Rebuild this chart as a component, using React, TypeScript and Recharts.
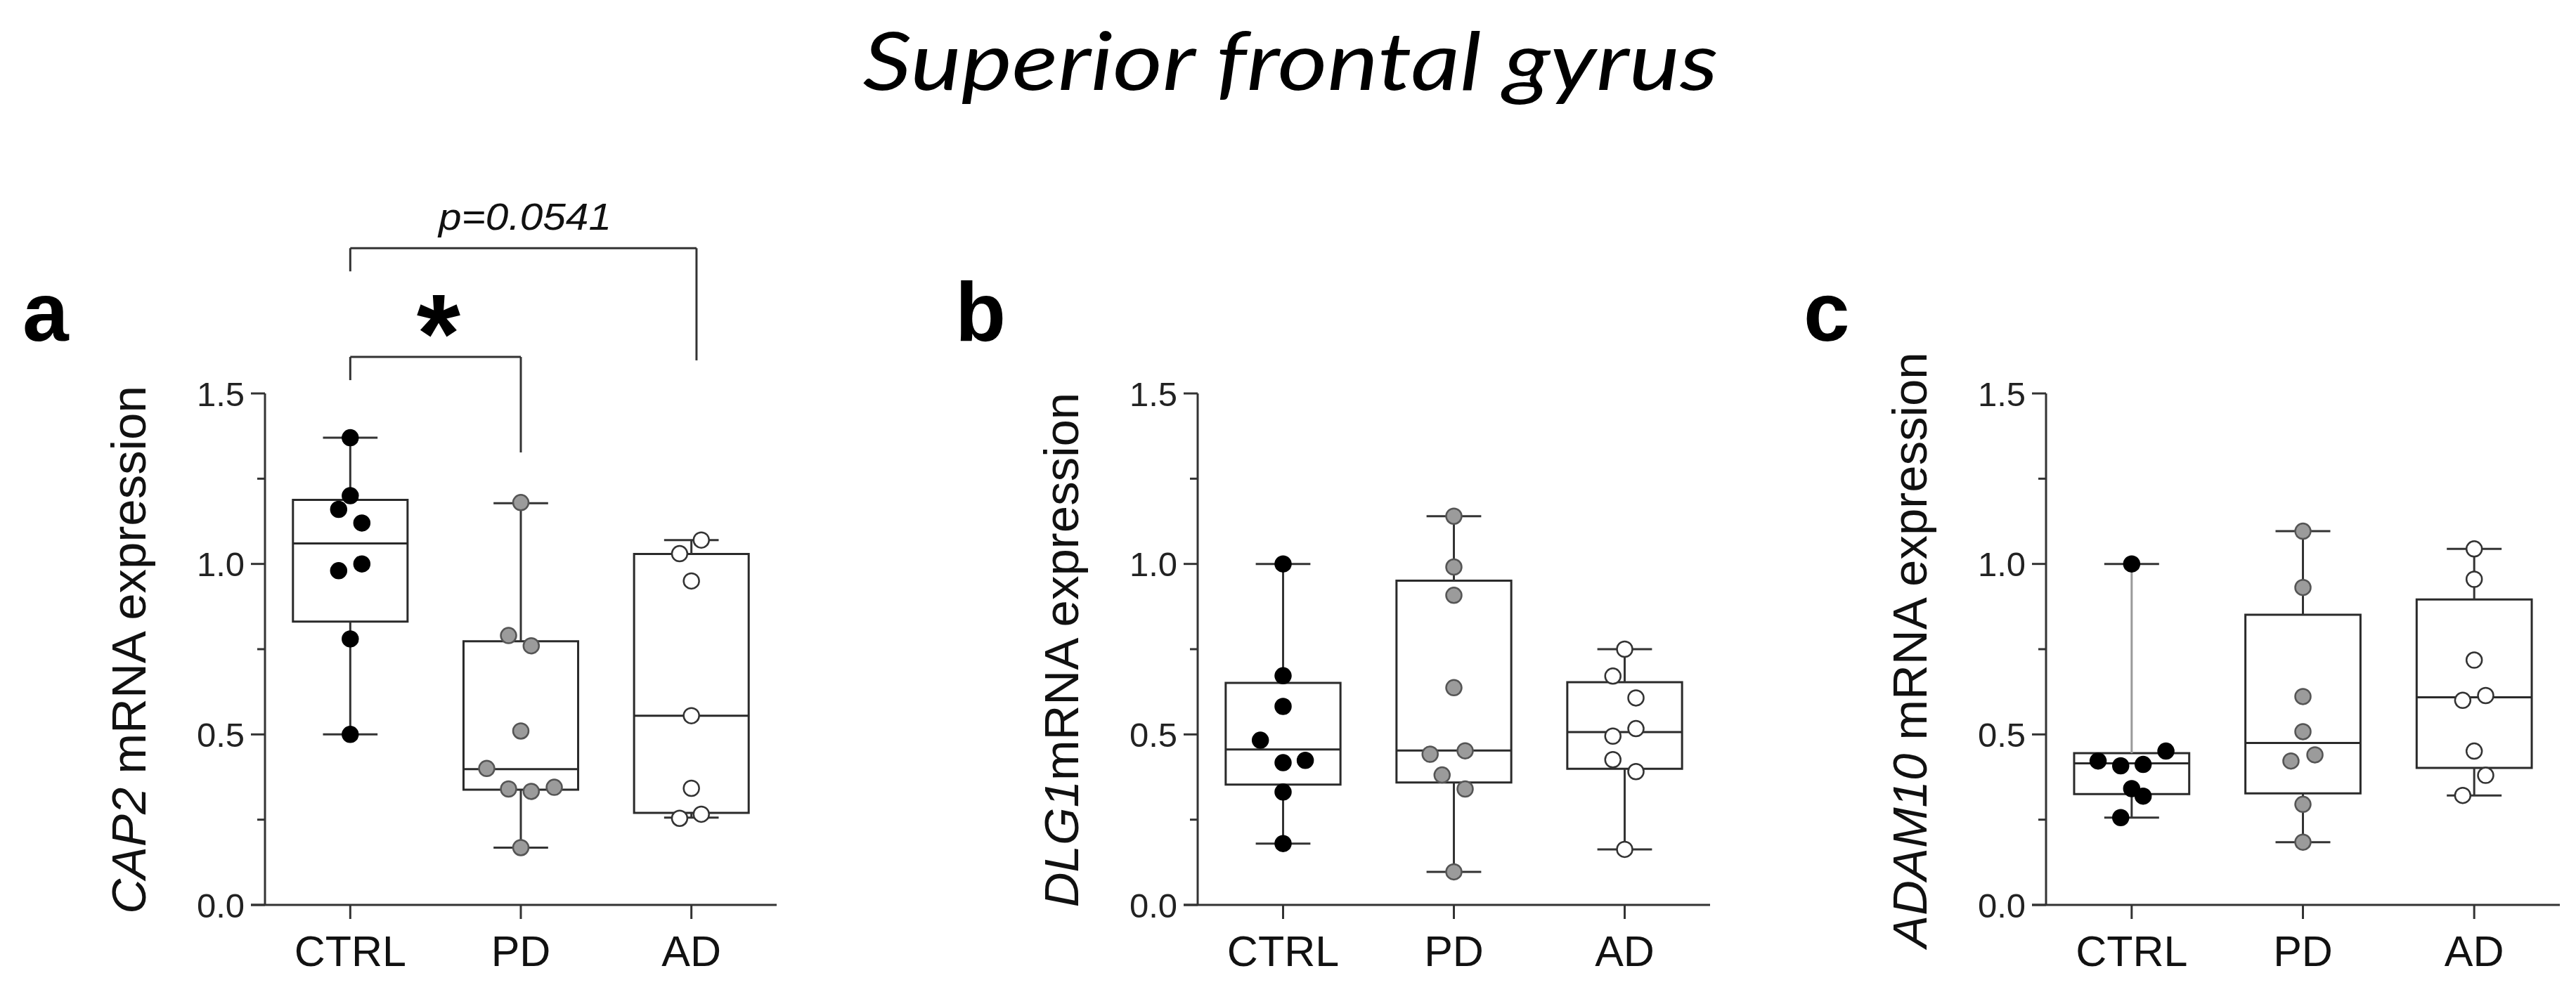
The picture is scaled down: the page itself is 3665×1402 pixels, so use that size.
import React from 'react';
import { ComposedChart, Scatter, XAxis, YAxis, ReferenceLine, ReferenceArea } from 'recharts';

// ---------- data ----------
const groups = ['CTRL', 'PD', 'AD'];
const yTicks = [0, 0.25, 0.5, 0.75, 1, 1.25, 1.5];

// Panel a – CAP2
const cap2Ctrl = [1.37, 1.2, 1.16, 1.12, 1.0, 0.98, 0.78, 0.5];
const cap2CtrlJit = [0, 0, -0.068, 0.068, 0.068, -0.068, 0, 0];
const cap2Pd = [1.18, 0.79, 0.76, 0.51, 0.4, 0.34, 0.333, 0.345, 0.168];
const cap2PdJit = [0, -0.072, 0.061, 0, -0.2, -0.072, 0.061, 0.196, 0];
const cap2Ad = [1.07, 1.03, 0.95, 0.555, 0.342, 0.266, 0.254];
const cap2AdJit = [0.058, -0.069, 0, 0, 0, 0.058, -0.069];
// [min, q1, median, q3, max]
const cap2Boxes = [
  [0.5, 0.831, 1.06, 1.188, 1.37],
  [0.168, 0.338, 0.398, 0.773, 1.178],
  [0.256, 0.27, 0.555, 1.029, 1.07],
];

// Panel b – DLG1
const dlg1Ctrl = [1.0, 0.672, 0.582, 0.483, 0.417, 0.424, 0.331, 0.18];
const dlg1CtrlJit = [0, 0, 0, -0.133, 0, 0.13, 0, 0];
const dlg1Pd = [1.14, 0.991, 0.908, 0.637, 0.442, 0.452, 0.381, 0.34, 0.097];
const dlg1PdJit = [0, 0, 0, 0, -0.139, 0.066, -0.069, 0.066, 0];
const dlg1Ad = [0.75, 0.671, 0.607, 0.517, 0.495, 0.426, 0.391, 0.163];
const dlg1AdJit = [0, -0.069, 0.066, 0.066, -0.069, -0.069, 0.066, 0];
const dlg1Boxes = [
  [0.18, 0.353, 0.456, 0.651, 1.0],
  [0.097, 0.359, 0.453, 0.951, 1.14],
  [0.163, 0.399, 0.507, 0.653, 0.75],
];

// Panel c – ADAM10
const adamCtrl = [1.0, 0.451, 0.422, 0.412, 0.408, 0.341, 0.319, 0.256];
const adamCtrlJit = [0, 0.2, -0.196, 0.067, -0.064, 0, 0.067, -0.064];
const adamPd = [1.096, 0.931, 0.611, 0.508, 0.44, 0.422, 0.295, 0.184];
const adamPdJit = [0, 0, 0, 0, 0.07, -0.07, 0, 0];
const adamAd = [1.044, 0.955, 0.718, 0.6, 0.614, 0.451, 0.38, 0.321];
const adamAdJit = [0, 0, 0, -0.067, 0.067, 0, 0.067, -0.067];
const adamBoxes = [
  [0.256, 0.325, 0.415, 0.445, 1.0],
  [0.184, 0.327, 0.475, 0.851, 1.096],
  [0.321, 0.402, 0.609, 0.896, 1.044],
];

// ---------- styles ----------
const FONT = '"Liberation Sans", Arial, sans-serif';
const AX = '#333';
const dotStyles = [
  { fill: '#000000', stroke: '#000000' },
  { fill: '#9b9b9b', stroke: '#555555' },
  { fill: '#ffffff', stroke: '#333333' },
];
const BOX_HALF = 0.336;
const CAP_HALF = 0.16;
const CHART_TOP = 300;
const CHART_H = 1102;
const LEFT_ROOM = 250;

const YTick = (props: any) => {
  const { x, y, payload } = props;
  const v = payload.value;
  const major = Math.abs(v * 2 - Math.round(v * 2)) < 1e-6;
  const ax = x + 29;
  return (
    <g>
      <line x1={ax - (major ? 20 : 11)} x2={ax} y1={y} y2={y} stroke={AX} strokeWidth={3} />
      {major && (
        <text x={ax - 29} y={y} dy="0.36em" textAnchor="end" fontSize={49} fontFamily={FONT} fill="#222">
          {v.toFixed(1)}
        </text>
      )}
    </g>
  );
};

const XTick = (props: any) => {
  const { x, y, payload } = props;
  return (
    <text x={x} y={y + 67} textAnchor="middle" fontSize={61} fontFamily={FONT} fill="#111">
      {groups[payload.value]}
    </text>
  );
};

type PanelProps = {
  plotLeft: number;
  plotRight: number;
  values: number[][];
  jitters: number[][];
  boxes: number[][];
  whiskerColors?: string[][];
  brackets?: { x1: number; x2: number; y: number; y1: number; y2: number }[];
};

const Panel = ({ plotLeft, plotRight, values, jitters, boxes, whiskerColors, brackets }: PanelProps) => {
  const width = plotRight - plotLeft + LEFT_ROOM + 30;
  const ext = 20 / ((plotRight - plotLeft) / 3);
  return (
    <div style={{ position: 'absolute', left: plotLeft - LEFT_ROOM, top: CHART_TOP }}>
      <ComposedChart width={width} height={CHART_H} margin={{ top: 260, right: 30, bottom: 14, left: 150 }}>
        <XAxis
          dataKey="x"
          type="number"
          domain={[-0.5, 2.5]}
          ticks={[0, 1, 2]}
          interval={0}
          allowDataOverflow
          axisLine={false}
          tickSize={20}
          tickMargin={0}
          tickLine={{ stroke: AX, strokeWidth: 3 }}
          tick={<XTick />}
          height={100}
        />
        <YAxis
          dataKey="y"
          type="number"
          domain={[0, 1.5]}
          ticks={yTicks}
          interval={0}
          allowDataOverflow
          width={100}
          tickSize={20}
          tickMargin={9}
          tickLine={false}
          axisLine={{ stroke: AX, strokeWidth: 3 }}
          tick={<YTick />}
        />
        <ReferenceLine
          segment={[{ x: -0.5 - ext, y: 0 }, { x: 2.5, y: 0 }]}
          stroke={AX}
          strokeWidth={3}
          ifOverflow="visible"
        />
        {boxes.map((b, g) => {
          const wc = whiskerColors ? whiskerColors[g] : [AX, AX];
          return (
            <React.Fragment key={'box' + g}>
              <ReferenceLine segment={[{ x: g, y: b[3] }, { x: g, y: b[4] }]} stroke={wc[1]} strokeWidth={3} ifOverflow="visible" />
              <ReferenceLine segment={[{ x: g, y: b[0] }, { x: g, y: b[1] }]} stroke={wc[0]} strokeWidth={3} ifOverflow="visible" />
              <ReferenceLine segment={[{ x: g - CAP_HALF, y: b[4] }, { x: g + CAP_HALF, y: b[4] }]} stroke={AX} strokeWidth={3} ifOverflow="visible" />
              <ReferenceLine segment={[{ x: g - CAP_HALF, y: b[0] }, { x: g + CAP_HALF, y: b[0] }]} stroke={AX} strokeWidth={3} ifOverflow="visible" />
              <ReferenceArea x1={g - BOX_HALF} x2={g + BOX_HALF} y1={b[1]} y2={b[3]} fill="none" stroke="#2a2a2a" strokeWidth={3} ifOverflow="visible" />
              <ReferenceLine segment={[{ x: g - BOX_HALF, y: b[2] }, { x: g + BOX_HALF, y: b[2] }]} stroke="#2a2a2a" strokeWidth={3} ifOverflow="visible" />
            </React.Fragment>
          );
        })}
        {(brackets || []).map((br, i) => (
          <React.Fragment key={'br' + i}>
            <ReferenceLine segment={[{ x: br.x1, y: br.y }, { x: br.x2, y: br.y }]} stroke={AX} strokeWidth={3} ifOverflow="visible" />
            <ReferenceLine segment={[{ x: br.x1, y: br.y }, { x: br.x1, y: br.y1 }]} stroke={AX} strokeWidth={3} ifOverflow="visible" />
            <ReferenceLine segment={[{ x: br.x2, y: br.y }, { x: br.x2, y: br.y2 }]} stroke={AX} strokeWidth={3} ifOverflow="visible" />
          </React.Fragment>
        ))}
        {values.map((vals, g) => (
          <Scatter
            key={'pts' + g}
            data={vals.map((v, i) => ({ x: g + jitters[g][i], y: v }))}
            isAnimationActive={false}
            shape={(p: any) => (
              <circle cx={p.cx} cy={p.cy} r={11} fill={dotStyles[g].fill} stroke={dotStyles[g].stroke} strokeWidth={2.5} />
            )}
          />
        ))}
      </ComposedChart>
    </div>
  );
};

const YLabel = ({ x, italic, rest }: { x: number; italic: string; rest: string }) => (
  <text transform={`translate(${x}, 925) rotate(-90)`} textAnchor="middle" fontSize={69} fontFamily={FONT} fill="#111">
    <tspan fontStyle="italic">{italic}</tspan>
    {rest}
  </text>
);

export default function App() {
  return (
    <div style={{ position: 'absolute', left: 0, top: 0, width: 3665, height: 1402, background: '#fff', overflow: 'hidden' }}>
      <Panel
        plotLeft={377}
        plotRight={1105}
        values={[cap2Ctrl, cap2Pd, cap2Ad]}
        jitters={[cap2CtrlJit, cap2PdJit, cap2AdJit]}
        boxes={cap2Boxes}
        brackets={[
          { x1: 0, x2: 2.03, y: 1.926, y1: 1.858, y2: 1.597 },
          { x1: 0, x2: 1.0, y: 1.607, y1: 1.539, y2: 1.327 },
        ]}
      />
      <Panel
        plotLeft={1704}
        plotRight={2433}
        values={[dlg1Ctrl, dlg1Pd, dlg1Ad]}
        jitters={[dlg1CtrlJit, dlg1PdJit, dlg1AdJit]}
        boxes={dlg1Boxes}
      />
      <Panel
        plotLeft={2911}
        plotRight={3642}
        values={[adamCtrl, adamPd, adamAd]}
        jitters={[adamCtrlJit, adamPdJit, adamAdJit]}
        boxes={adamBoxes}
        whiskerColors={[[AX, '#9a9a9a'], [AX, AX], [AX, AX]]}
      />
      <svg width={3665} height={1402} style={{ position: 'absolute', left: 0, top: 0, pointerEvents: 'none' }}>
        <text x={1836} y={128} textAnchor="middle" fontSize={114} fontStyle="italic" fontFamily="Lato, 'Open Sans', sans-serif" fill="#000" textLength={1217} lengthAdjust="spacingAndGlyphs">
          Superior frontal gyrus
        </text>
        <text x={32} y={485} fontSize={118} fontWeight="bold" fontFamily={FONT} fill="#000">a</text>
        <text x={1359} y={485} fontSize={118} fontWeight="bold" fontFamily={FONT} fill="#000">b</text>
        <text x={2566} y={485} fontSize={118} fontWeight="bold" fontFamily={FONT} fill="#000">c</text>
        <YLabel x={207} italic="CAP2" rest=" mRNA expression" />
        <YLabel x={1534} italic="DLG1" rest="mRNA expression" />
        <YLabel x={2741} italic="ADAM10" rest=" mRNA expression" />
        <text x={747} y={327} textAnchor="middle" fontSize={54} fontStyle="italic" fontFamily={FONT} fill="#111" textLength={246} lengthAdjust="spacingAndGlyphs">
          p=0.0541
        </text>
        <text x={624} y={530} textAnchor="middle" fontSize={160} fontWeight="bold" fontFamily={FONT} fill="#000">*</text>
      </svg>
    </div>
  );
}
